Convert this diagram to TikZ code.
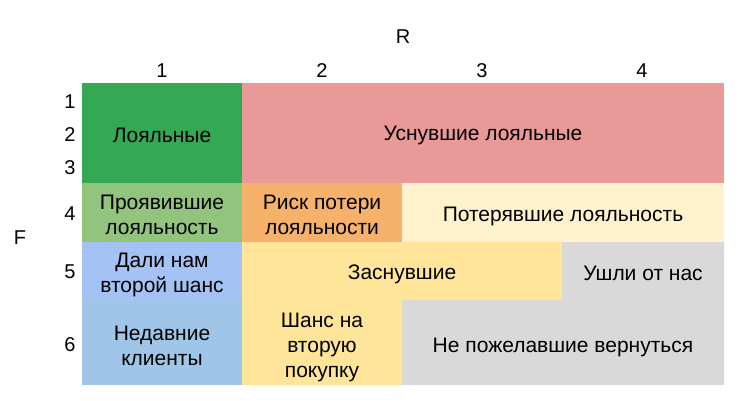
\documentclass[tikz,border=0pt]{standalone}
\usepackage{fontspec}
\setmainfont{Liberation Sans}
\definecolor{cgreen}{HTML}{34A853}
\definecolor{cpink}{HTML}{EA9999}
\definecolor{clgreen}{HTML}{93C47D}
\definecolor{corange}{HTML}{F6B26B}
\definecolor{clyellow}{HTML}{FFF2CC}
\definecolor{ccorn}{HTML}{A4C2F4}
\definecolor{cyellow}{HTML}{FFE599}
\definecolor{cgray}{HTML}{D9D9D9}
\definecolor{clblue}{HTML}{9FC5E8}
\begin{document}
\begin{tikzpicture}[x=1pt,y=-1pt,
  lbl/.style={font=\fontsize{21}{25}\selectfont, align=center, inner sep=0pt, text=black},
  axis/.style={font=\fontsize{20}{25}\selectfont, inner sep=0pt}]
\useasboundingbox (0,0) rectangle (744,401);
\fill[white] (0,0) rectangle (744,401);
% cells
\fill[cgreen] (82,83) rectangle (242,183);
\fill[cpink] (242,83) rectangle (724,183);
\fill[clgreen] (82,183) rectangle (242,242);
\fill[corange] (242,183) rectangle (402,242);
\fill[clyellow] (402,183) rectangle (724,242);
\fill[ccorn] (82,242) rectangle (242,300);
\fill[cyellow] (242,242) -- (562,242) -- (562,300) -- (402,300) -- (402,385) -- (242,385) -- cycle;
\fill[cgray] (562,242) -- (724,242) -- (724,385) -- (402,385) -- (402,300) -- (562,300) -- cycle;
\fill[clblue] (82,300) rectangle (242,385);
% labels
\node[lbl] (loyal) at (162,135) {Лояльные};
\node[lbl] (sleeployal) at (483,135) {Уснувшие лояльные};
\node[lbl] (shown) at (162,215) {Проявившие\\лояльность};
\node[lbl] (risk) at (322,215) {Риск потери\\лояльности};
\node[lbl] (lost) at (563,216) {Потерявшие лояльность};
\node[lbl] (second) at (162,275) {Дали нам\\второй шанс};
\node[lbl] (sleep) at (402,274) {Заснувшие};
\node[lbl] (gone) at (643,273) {Ушли от нас};
\node[lbl] (recent) at (162,346) {Недавние\\клиенты};
\node[lbl] (chance) at (322,347) {Шанс на\\вторую\\покупку};
\node[lbl] (never) at (563,347) {Не пожелавшие вернуться};
% axes
\node[axis] (R) at (403,37) {R};
\node[axis] (F) at (20,238) {F};
\node[axis] (c1) at (162,71) {1};
\node[axis] (c2) at (322,71) {2};
\node[axis] (c3) at (482,71) {3};
\node[axis] (c4) at (642,71) {4};
\node[axis] (r1) at (70,102) {1};
\node[axis] (r2) at (70,135) {2};
\node[axis] (r3) at (70,168) {3};
\node[axis] (r4) at (70,214) {4};
\node[axis] (r5) at (70,272) {5};
\node[axis] (r6) at (70,345) {6};
\end{tikzpicture}
\end{document}
